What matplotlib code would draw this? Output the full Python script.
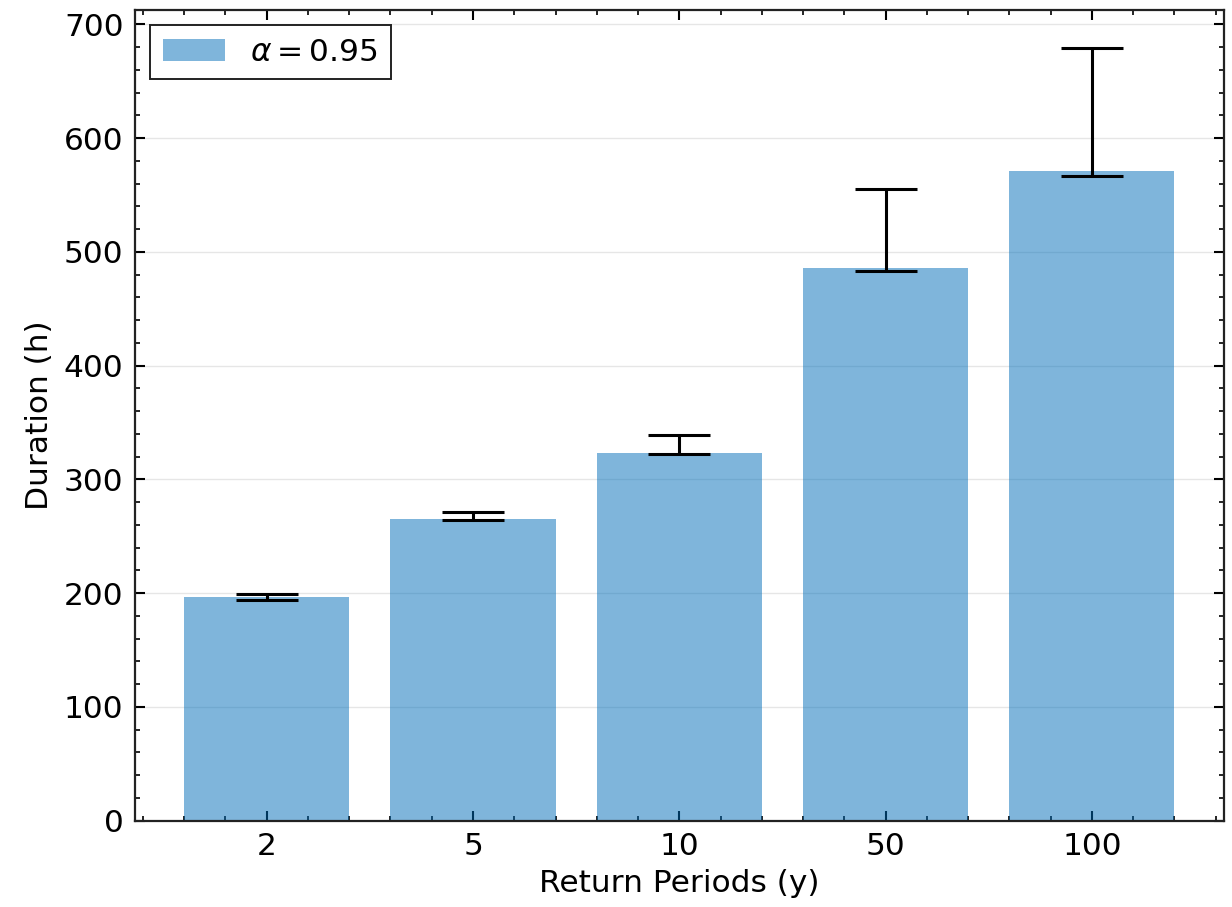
import matplotlib
matplotlib.use("Agg")
import matplotlib.pyplot as plt
from matplotlib.ticker import AutoMinorLocator, MultipleLocator
import numpy as np

# Return-period estimates of event duration with confidence bounds
periods = ["2", "5", "10", "50", "100"]
duration = [197, 265, 323, 486, 571]
ci_low = [194, 264, 322, 483, 567]
ci_high = [199, 271, 339, 555, 679]

plt.rcParams.update({
    "font.family": "DejaVu Sans",
    "font.size": 22.5,
    "mathtext.fontset": "dejavusans",
    "axes.linewidth": 1.6,
    "axes.edgecolor": "#222222",
    "xtick.direction": "in",
    "ytick.direction": "in",
    "xtick.top": True,
    "ytick.right": True,
    "xtick.major.size": 7.5,
    "ytick.major.size": 7.5,
    "xtick.minor.size": 3.8,
    "ytick.minor.size": 3.8,
    "xtick.major.width": 1.5,
    "ytick.major.width": 1.5,
    "xtick.minor.width": 1.2,
    "ytick.minor.width": 1.2,
    "xtick.major.pad": 8,
    "ytick.major.pad": 8,
})

fig = plt.figure(figsize=(12.32, 9.07), dpi=100)
ax = fig.add_axes([0.1093, 0.0952, 0.9935 - 0.1093, 0.9895 - 0.0952])

x = np.arange(len(periods))
vals = np.array(duration)
yerr = np.array([vals - np.array(ci_low), np.array(ci_high) - vals])

ax.bar(x, vals, width=0.8, color="#006DB9", alpha=0.5, label=r"$\alpha = 0.95$",
       zorder=2)
ax.errorbar(x, vals, yerr=yerr, fmt="none", ecolor="black", elinewidth=2.2,
            capsize=22, capthick=2.2, zorder=3)

ax.grid(axis="y", color="#e6e6e6", linewidth=1.0, zorder=0)
ax.set_axisbelow(True)

ax.set_xticks(x)
ax.set_xticklabels(periods)
ax.xaxis.set_minor_locator(AutoMinorLocator(5))
ax.yaxis.set_major_locator(MultipleLocator(100))
ax.yaxis.set_minor_locator(AutoMinorLocator(5))

ax.set_xlabel("Return Periods (y)", labelpad=6)
ax.set_ylabel("Duration (h)", labelpad=7)

leg = ax.legend(loc="upper left", fancybox=False, framealpha=1,
                edgecolor="#222222", borderpad=0.4, handlelength=2.0,
                handletextpad=0.8, borderaxespad=0.5)
leg.get_frame().set_linewidth(1.4)

fig.savefig("out.png", dpi=100)
